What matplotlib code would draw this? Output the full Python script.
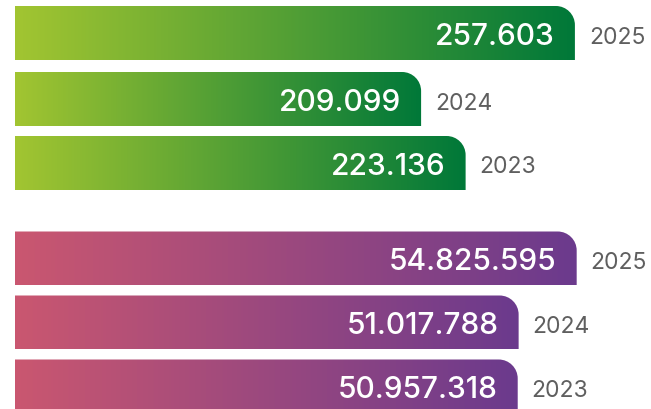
import numpy as np
import matplotlib
matplotlib.use("Agg")
import matplotlib.pyplot as plt
from matplotlib.path import Path
from matplotlib.patches import PathPatch
from matplotlib.colors import LinearSegmentedColormap

#%%
# dados
years = ["2025", "2024", "2023"]
green_values = [257603, 209099, 223136]
purple_values = [54825595, 51017788, 50957318]

#%%
W, H = 651, 410
fig = plt.figure(figsize=(W / 100, H / 100), dpi=100)

bar_h = 54
radius = 19
left_px = 15

groups = [
    # valores, centros das barras (px), escala x (inicio, fim), cores
    (green_values, [34, 100, 164], (76300, 281600), ["#a2c531", "#007839"]),
    (purple_values, [259.5, 323.5, 387.5], (17.0e6, 59.7e6), ["#ca5770", "#6b3a8d"]),
]

k = 0.5523


def format_br(v):
    return f"{v:,}".replace(",", ".")


for values, centers, (xmin, xmax), colors in groups:
    ax = fig.add_axes([0, 0, 1, 1])
    ax.set_xlim(xmin, xmax)
    ax.set_ylim(H, 0)
    ax.axis("off")

    unit = (xmax - xmin) / W  # valor por pixel
    base = xmin + left_px * unit
    rx = radius * unit
    ry = radius
    cmap = LinearSegmentedColormap.from_list("grad", colors)
    grad = np.linspace(0, 1, 256).reshape(1, -1)

    for v, yc, year in zip(values, centers, years):
        x0, x1 = base, v
        yt, yb = yc - bar_h / 2, yc + bar_h / 2

        # barra com o canto superior direito arredondado
        verts = [
            (x0, yb), (x1, yb), (x1, yt + ry),
            (x1, yt + ry * (1 - k)), (x1 - rx * (1 - k), yt), (x1 - rx, yt),
            (x0, yt), (x0, yb),
        ]
        codes = [
            Path.MOVETO, Path.LINETO, Path.LINETO,
            Path.CURVE4, Path.CURVE4, Path.CURVE4,
            Path.LINETO, Path.CLOSEPOLY,
        ]
        patch = PathPatch(Path(verts, codes), facecolor="none", edgecolor="none")
        ax.add_patch(patch)

        im = ax.imshow(grad, cmap=cmap, aspect="auto", interpolation="bicubic",
                       extent=(x0, x1, yb, yt))
        im.set_clip_path(patch)

        # valor dentro da barra
        ax.text(x1 - 20 * unit, yc + 11, format_br(v), ha="right", va="baseline",
                color="white", fontsize=21.5, family="Inter", fontweight="medium")

        # ano fora da barra
        ax.text(x1 + 14 * unit, yc + 9.5, year, ha="left", va="baseline",
                color="#5f5f5f", fontsize=16.5, family="Inter")

    ax.set_xlim(xmin, xmax)
    ax.set_ylim(H, 0)

fig.savefig("out.png", dpi=100)
